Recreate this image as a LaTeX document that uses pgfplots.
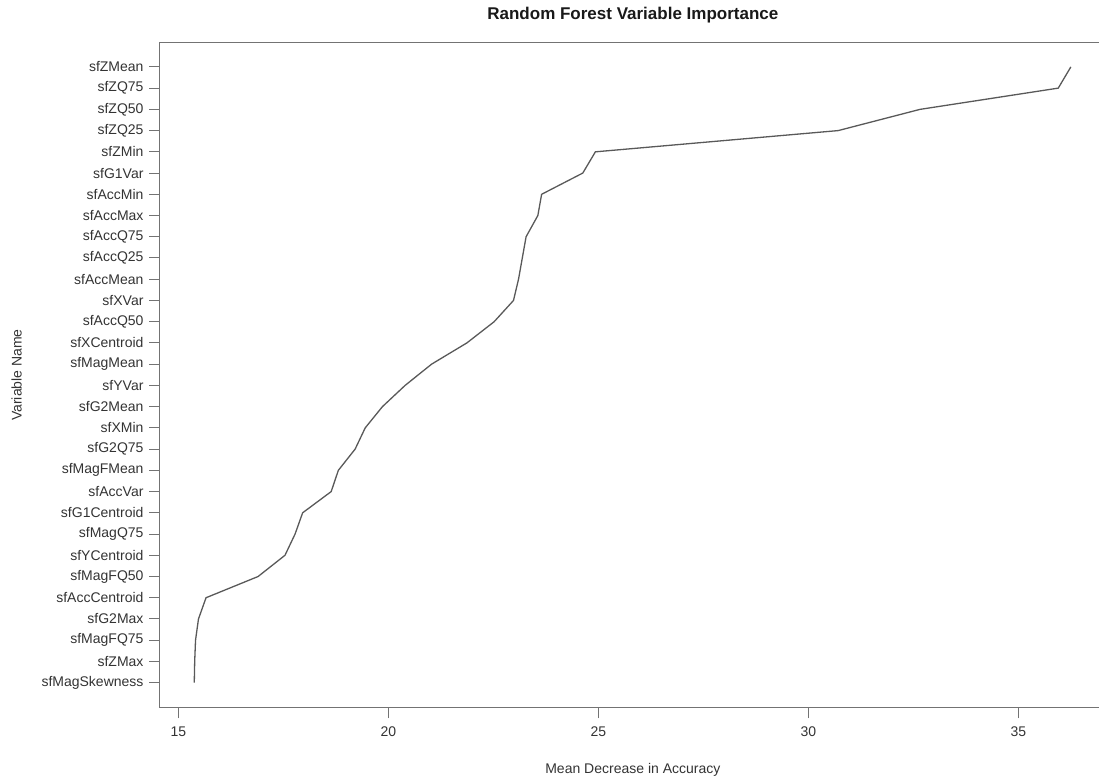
\documentclass[border=0pt]{standalone}
\usepackage{pgfplots}
\pgfplotsset{compat=1.18}
\usepackage{fontspec}
\setmainfont{Liberation Sans}
\begin{document}
\begin{tikzpicture}
\begin{axis}[
  at={(0pt,0pt)}, anchor=south west,
  scale only axis, width=945.7pt, height=664.6pt,
  xmin=14.564, xmax=37.08, ymin=-0.16, ymax=31.14,
  xtick={15,20,25,30,35},
  ytick={1,...,30},
  yticklabels={sfMagSkewness,sfZMax,sfMagFQ75,sfG2Max,sfAccCentroid,sfMagFQ50,sfYCentroid,sfMagQ75,sfG1Centroid,sfAccVar,sfMagFMean,sfG2Q75,sfXMin,sfG2Mean,sfYVar,sfMagMean,sfXCentroid,sfAccQ50,sfXVar,sfAccMean,sfAccQ25,sfAccQ75,sfAccMax,sfAccMin,sfG1Var,sfZMin,sfZQ25,sfZQ50,sfZQ75,sfZMean},
  tick pos=left, tick align=outside, major tick length=11pt,
  /pgf/number format/assume math mode=true,
  axis line style={black!55, line width=1pt},
  tick style={black!55, line width=1pt},
  ticklabel style={font=\fontsize{14}{16}\selectfont, text=black!80},
  yticklabel style={xshift=-2pt},
  xticklabel style={yshift=-5pt},
  title={Random Forest Variable Importance},
  title style={at={(0.5,1.033)}, anchor=center, font=\bfseries\fontsize{17}{20}\selectfont, text=black!90},
  xlabel={Mean Decrease in Accuracy},
  xlabel style={at={(0.5,-0.094)}, anchor=center, font=\fontsize{14}{16}\selectfont, text=black!80},
  ylabel={Variable Name},
  ylabel style={at={(-0.1515,0.5)}, anchor=center, font=\fontsize{14}{16}\selectfont, text=black!80},
]
\addplot[black!65, line width=1.3pt, mark=none] coordinates {
(15.38,1) (15.39,2) (15.41,3) (15.48,4) (15.66,5) (16.90,6) (17.54,7) (17.78,8) (17.96,9) (18.64,10)
(18.81,11) (19.21,12) (19.45,13) (19.86,14) (20.40,15) (21.03,16) (21.87,17) (22.52,18) (22.98,19) (23.10,20)
(23.19,21) (23.28,22) (23.56,23) (23.65,24) (24.63,25) (24.93,26) (30.71,27) (32.66,28) (35.95,29) (36.25,30)
};
\end{axis}
\pgfresetboundingbox
\useasboundingbox (-160pt,-75.7pt) rectangle (939pt,707.3pt);
\end{tikzpicture}
\end{document}
